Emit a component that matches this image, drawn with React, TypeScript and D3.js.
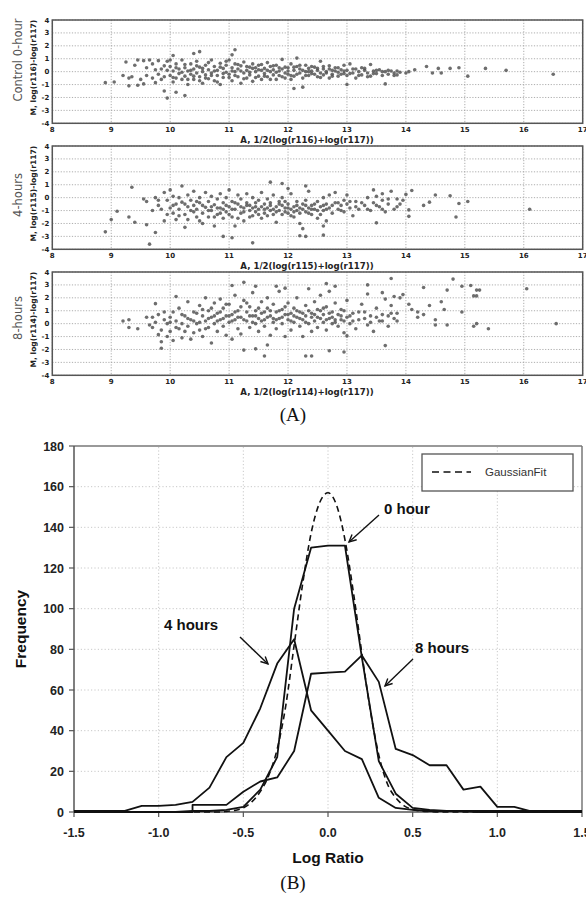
import React from 'react';
import * as d3 from 'd3';

// ---- panel A: MA plots (A value, M value) ----
const ctrlPts: [number, number][] = [
  [8.9,-0.85],[9.05,-0.8],[9.25,0.75],[9.95,-2.05],[9.9,-1.5],[10.1,-1.6],[10.25,-1.85],[10.05,1.25],[10.4,1.4],[10.5,1.55],
  [11.1,1.7],[11.05,1.3],[12.15,1.05],[12.1,-1.3],[12.25,-1.2],[13.0,-1.0],[13.65,-0.95],[14.05,0],[14.15,0.15],[14.35,0.4],
  [14.45,-0.1],[14.55,0.25],[14.6,-0.1],[14.75,0.25],[14.9,0.3],[15.05,-0.35],[15.35,0.25],[15.7,0.1],[16.5,-0.2],[14.0,-0.1],
  [9.2,-0.3],[9.3,-0.5],[9.3,-1.1],[9.35,-0.4],[9.4,0.5],[9.45,-1.05],[9.45,0.9],[9.5,-0.6],[9.55,0.85],[9.55,-0.95],
  [9.6,0.3],[9.6,-0.3],[9.65,0.9],[9.7,-0.5],[9.75,0.15],[9.8,-0.2],[9.8,0.85],[9.85,-0.6],[9.9,0.45],[9.9,-0.4],[9.95,0.1],[9.95,0.8],
  [10.0,-0.3],[10.0,0.4],[10.05,-0.8],[10.05,0.05],[10.1,0.6],[10.1,-0.5],[10.15,0.2],[10.15,-0.15],[10.2,0.9],[10.2,-0.6],
  [10.25,0.3],[10.25,-0.35],[10.3,0.05],[10.3,-1.0],[10.35,0.6],[10.35,-0.2],[10.4,0.2],[10.4,-0.6],[10.45,0.8],[10.45,-0.1],
  [10.5,0.35],[10.5,-0.4],[10.55,0.0],[10.55,-0.9],[10.6,0.5],[10.6,-0.25],[10.65,0.15],[10.65,-0.55],[10.7,0.9],[10.7,-0.1],
  [10.75,0.4],[10.75,-0.7],[10.8,0.1],[10.8,-0.3],[10.85,0.65],[10.85,-1.0],[10.9,0.25],[10.9,-0.45],[10.95,-0.05],[10.95,0.5],
  [11.0,0.9],[11.0,-0.2],[11.05,0.3],[11.05,-0.7],[11.1,0.0],[11.1,0.6],[11.15,-0.4],[11.15,0.2],[11.2,-0.9],[11.2,0.45],
  [11.25,-0.1],[11.25,0.75],[11.3,0.1],[11.3,-0.5],[11.35,0.35],[11.35,-0.25],[11.4,0.6],[11.4,-0.75],[11.45,0.0],[11.45,0.3],
  [11.5,-0.35],[11.5,0.5],[11.55,0.1],[11.55,-0.6],[11.6,0.25],[11.6,-0.15],[11.65,0.7],[11.65,-0.4],[11.7,0.0],[11.7,0.4],
  [11.75,-0.25],[11.75,0.15],[11.8,-0.6],[11.8,0.5],[11.85,0.05],[11.85,-0.3],[11.9,0.95],[11.9,0.2],[11.95,-0.1],[11.95,-0.5],
  [12.0,0.3],[12.0,-0.2],[12.05,0.6],[12.05,-0.6],[12.1,0.1],[12.1,-0.35],[12.15,0.4],[12.2,-0.1],[12.2,0.2],[12.25,-0.5],
  [12.3,0.5],[12.3,0.0],[12.35,-0.3],[12.35,0.25],[12.4,0.05],[12.4,-0.15],[12.45,0.35],[12.5,-0.4],[12.5,0.1],[12.55,0.8],
  [12.55,-0.1],[12.6,0.2],[12.6,-0.25],[12.65,0.0],[12.7,0.45],[12.7,-0.5],[12.75,0.1],[12.75,-0.2],[12.8,0.3],[12.85,-0.05],
  [12.85,-0.35],[12.9,0.15],[12.95,0.5],[12.95,-0.15],[13.0,0.1],[13.0,-0.3],[13.05,0.6],[13.1,-0.1],[13.1,0.2],[13.15,-0.5],
  [13.2,0.0],[13.25,0.3],[13.25,-0.25],[13.3,0.1],[13.35,-0.1],[13.4,0.55],[13.4,-0.35],[13.45,0.05],[13.5,-0.15],[13.55,0.15],
  [13.6,-0.3],[13.65,0.0],[13.7,-0.2],[13.75,0.05],[13.8,-0.1],[13.85,-0.25],[13.9,-0.05],
  [9.7,0.6],[9.75,-0.85],[9.85,0.2],[10.0,0.9],[10.05,-0.45],[10.1,0.3],[10.2,-0.05],[10.25,0.55],[10.3,-0.6],[10.35,0.1],
  [10.4,-0.35],[10.45,0.45],[10.5,-0.7],[10.55,0.25],[10.6,-0.5],[10.65,0.7],[10.7,-0.3],[10.75,0.05],[10.8,-0.8],[10.85,0.35],
  [10.9,-0.15],[10.95,0.8],[11.0,-0.45],[11.05,0.05],[11.1,-0.3],[11.15,0.55],[11.2,0.05],[11.25,-0.55],[11.3,0.4],[11.35,-0.05],
  [11.4,0.25],[11.45,-0.45],[11.5,0.15],[11.55,0.55],[11.6,-0.35],[11.65,0.1],[11.7,-0.6],[11.75,0.45],[11.8,-0.05],[11.85,0.3],
  [11.9,-0.4],[11.95,0.35],[12.0,0.05],[12.05,-0.3],[12.1,0.35],[12.15,-0.2],[12.2,0.5],[12.25,0.1],[12.3,-0.3],[12.35,0.0],
  [12.4,0.4],[12.45,-0.2],[12.5,0.25],[12.55,-0.45],[12.6,0.4],[12.65,-0.1],[12.7,0.2],[12.75,-0.35],[12.8,0.05],[12.85,0.3],
  [12.9,-0.2],[12.95,0.05],[13.05,-0.15],[13.15,0.2],[13.2,-0.3],[13.3,0.25],[13.35,-0.4],[13.45,-0.15],[13.5,0.1],[13.6,0.0],
  [13.7,0.1],[13.8,-0.3],[13.85,0.05],
];

const h4Pts: [number, number][] = [
  [8.9,-2.65],[9.0,-1.7],[9.1,-1.05],[9.35,0.8],[9.3,-1.5],[9.4,-1.9],[9.6,-2.1],[9.65,-3.6],[9.75,-2.7],[10.9,-3.0],
  [11.05,-3.1],[11.4,-3.5],[12.2,-2.95],[12.3,-3.0],[12.25,-2.4],[12.6,-2.9],[12.6,-2.2],[12.65,-1.8],[11.7,1.2],[11.9,1.1],
  [12.0,0.7],[12.3,0.9],[13.5,-1.95],[14.05,-1.45],[14.05,-0.95],[14.1,0.55],[14.3,-0.6],[14.5,0.2],[14.75,0.15],[14.9,-0.45],
  [14.85,-1.5],[15.05,-0.3],[16.1,-0.9],[13.75,0.5],[14.0,0.25],[13.45,0.6],[13.6,0.3],[14.4,-0.35],
  [9.55,-0.1],[9.6,-0.3],[9.7,-1.0],[9.75,0.0],[9.8,-0.6],[9.85,-0.9],[9.9,0.4],[9.9,-1.8],[9.95,-0.2],[10.0,0.6],
  [10.0,-0.8],[10.05,-1.2],[10.05,0.1],[10.1,-0.5],[10.1,-1.7],[10.15,0.0],[10.15,-0.9],[10.2,0.9],[10.2,-0.35],[10.25,-1.3],
  [10.25,-2.3],[10.3,-0.7],[10.3,0.2],[10.35,-1.0],[10.35,-0.2],[10.4,0.5],[10.4,-0.6],[10.45,-1.5],[10.45,-0.9],[10.5,0.0],
  [10.5,-0.4],[10.55,-1.2],[10.55,-2.0],[10.6,0.4],[10.6,-0.75],[10.65,-1.5],[10.65,-0.3],[10.7,0.1],[10.7,-1.0],[10.75,-0.55],
  [10.75,-2.2],[10.8,-0.1],[10.8,-1.3],[10.85,0.3],[10.85,-0.8],[10.9,-1.6],[10.9,-0.4],[10.95,0.0],[10.95,-1.1],
  [11.0,0.6],[11.0,-0.7],[11.05,-0.3],[11.05,-1.5],[11.1,-0.9],[11.1,-2.2],[11.15,0.2],[11.15,-0.5],[11.2,-1.2],[11.2,-0.1],
  [11.25,-0.8],[11.25,-1.8],[11.3,-0.4],[11.3,0.3],[11.35,-1.0],[11.35,-0.6],[11.4,-1.4],[11.4,0.0],[11.45,-0.7],[11.45,-1.1],
  [11.5,-0.2],[11.5,-0.9],[11.55,-1.6],[11.55,0.4],[11.6,-0.5],[11.6,-1.2],[11.65,-0.8],[11.65,-0.1],[11.7,-1.0],[11.7,-0.4],
  [11.75,-1.3],[11.75,0.2],[11.8,-0.7],[11.8,-1.9],[11.85,-0.3],[11.85,-1.0],[11.9,-0.6],[11.9,0.0],[11.95,-1.1],[11.95,-0.8],
  [12.0,-0.5],[12.0,-1.2],[12.05,-0.9],[12.05,0.3],[12.1,-0.7],[12.1,-1.5],[12.15,-0.3],[12.15,-1.0],[12.2,-0.8],[12.2,-2.0],
  [12.25,-0.5],[12.3,-1.1],[12.3,-0.2],[12.35,-0.8],[12.35,0.5],[12.4,-1.3],[12.4,-0.6],[12.45,-0.9],[12.5,-0.3],[12.5,-1.6],
  [12.55,-0.7],[12.6,0.0],[12.6,-1.0],[12.65,-0.5],[12.7,-0.8],[12.7,0.2],[12.75,-1.2],[12.8,-0.4],[12.8,0.4],[12.85,-0.9],
  [12.9,-0.6],[12.95,-0.2],[12.95,-1.1],[13.0,-0.5],[13.0,0.2],[13.05,-0.8],[13.1,-1.4],[13.15,-0.3],[13.2,-0.9],[13.3,-0.6],
  [13.35,0.0],[13.4,-1.0],[13.45,-0.4],[13.5,0.1],[13.55,-0.7],[13.6,-0.2],[13.65,-1.1],[13.7,-0.5],[13.8,-0.9],[13.85,-0.1],
  [13.9,-0.5],[13.95,-0.2],
  [9.8,-0.2],[9.95,-1.3],[10.05,-0.6],[10.15,-1.4],[10.25,-0.5],[10.3,-1.7],[10.4,-1.1],[10.45,-0.3],[10.5,-1.8],[10.55,-0.6],
  [10.65,-1.0],[10.7,-0.7],[10.75,-1.5],[10.8,-0.8],[10.85,-1.2],[10.9,-0.9],[10.95,-0.6],[11.0,-1.3],[11.05,-0.9],[11.1,-0.4],
  [11.15,-1.6],[11.2,-0.7],[11.25,-1.1],[11.3,-0.6],[11.35,-1.5],[11.4,-0.8],[11.45,-0.4],[11.5,-1.3],[11.55,-0.7],[11.6,-0.9],
  [11.65,-1.4],[11.7,-0.6],[11.75,-0.9],[11.8,-1.1],[11.85,-0.5],[11.9,-1.3],[11.95,-0.3],[12.0,-0.8],[12.05,-1.4],[12.1,-1.1],
  [12.15,-0.6],[12.2,-1.2],[12.25,-0.9],[12.3,-0.6],[12.35,-1.2],[12.4,-0.9],[12.45,-0.5],[12.5,-1.0],[12.55,-1.3],[12.6,-0.6],
  [12.65,-0.9],[12.75,-0.6],[12.85,-0.4],[12.9,-1.0],[13.05,-0.3],[13.15,-0.7],[13.25,-0.4],[13.35,-0.9],[13.5,-0.6],[13.6,-0.9],
  [13.7,-0.1],[13.85,-0.7],
];

const h8Pts: [number, number][] = [
  [9.2,0.2],[9.3,0.3],[9.3,-0.3],[9.45,-0.4],[9.7,0.5],[9.75,1.55],[9.8,-0.85],[9.85,-1.4],[9.85,-1.9],[10.1,2.1],
  [11.25,-2.05],[11.45,-1.95],[11.6,-2.5],[11.65,-1.65],[12.3,-2.5],[12.4,-2.5],[12.7,-2.1],[12.95,-2.2],[13.0,-0.95],[13.65,-1.7],
  [11.25,3.2],[11.05,2.95],[11.45,2.9],[11.8,2.9],[11.95,2.75],[12.65,3.1],[12.8,2.9],[13.35,3.0],[13.75,3.5],[14.3,2.8],
  [14.8,3.45],[14.95,2.9],[15.1,2.95],[15.2,2.6],[15.15,2.15],[15.2,2.15],[15.25,2.6],[16.05,2.7],[16.55,0.0],[15.4,-0.4],
  [15.15,-0.2],[15.2,0],[14.7,-0.1],[14.5,-0.1],[14.6,1.7],[14.65,1.1],[14.7,2.6],[14.4,1.4],[14.3,0.7],[14.2,0.5],
  [14.1,1.1],[13.95,2.25],[14.05,1.5],[13.85,0.8],[14.5,0.3],[14.95,0.9],[14.2,0.9],
  [9.6,0.5],[9.65,-0.1],[9.7,-0.3],[9.75,0.1],[9.8,0.7],[9.85,-0.5],[9.9,0.3],[9.95,-1.0],[9.95,0.0],[10.0,0.5],
  [10.0,-0.6],[10.05,0.9],[10.05,-1.3],[10.1,0.2],[10.15,-0.4],[10.15,1.2],[10.2,0.0],[10.2,-1.1],[10.25,0.6],[10.3,-0.2],
  [10.3,1.7],[10.35,0.3],[10.35,-1.2],[10.4,-0.7],[10.4,0.9],[10.45,0.0],[10.5,1.4],[10.5,-0.5],[10.55,0.6],[10.55,-1.0],
  [10.6,0.2],[10.6,2.0],[10.65,-0.3],[10.65,1.0],[10.7,0.5],[10.7,-1.5],[10.75,0.0],[10.75,1.6],[10.8,0.8],[10.8,-0.6],
  [10.85,0.3],[10.85,1.9],[10.9,-0.2],[10.9,1.2],[10.95,0.6],[10.95,-0.9],
  [11.0,0.1],[11.0,1.5],[11.05,0.7],[11.05,-1.2],[11.1,0.3],[11.1,2.2],[11.15,-0.4],[11.15,1.0],[11.2,0.5],[11.2,-0.8],
  [11.25,1.8],[11.3,0.2],[11.3,0.9],[11.35,-0.3],[11.35,1.3],[11.4,0.6],[11.4,2.4],[11.45,0.0],[11.45,1.0],[11.5,-0.6],
  [11.5,0.4],[11.55,1.7],[11.55,0.8],[11.6,-0.2],[11.6,0.3],[11.65,1.2],[11.65,2.0],[11.7,0.6],[11.7,-0.9],[11.75,0.1],
  [11.75,1.5],[11.8,0.9],[11.8,-0.4],[11.85,0.4],[11.85,2.5],[11.9,1.1],[11.9,0.0],[11.95,0.7],[11.95,-1.0],
  [12.0,0.3],[12.0,1.6],[12.05,0.8],[12.05,-0.5],[12.1,0.1],[12.1,1.2],[12.15,2.0],[12.15,0.5],[12.2,-0.2],[12.2,0.9],
  [12.25,0.3],[12.25,-1.0],[12.3,1.4],[12.3,0.6],[12.35,0.0],[12.35,2.7],[12.4,0.8],[12.4,-0.6],[12.45,0.2],[12.45,1.7],
  [12.5,0.5],[12.5,-0.3],[12.55,1.0],[12.55,2.2],[12.6,0.1],[12.6,0.7],[12.65,-0.5],[12.65,1.3],[12.7,0.4],[12.7,2.5],
  [12.75,0.0],[12.75,0.9],[12.8,0.3],[12.8,1.6],[12.85,-0.2],[12.9,0.6],[12.9,1.1],[12.95,0.2],[12.95,-0.7],
  [13.0,0.5],[13.0,1.8],[13.05,0.0],[13.1,0.8],[13.15,-0.4],[13.2,0.3],[13.25,1.5],[13.3,0.9],[13.35,-0.1],[13.35,2.3],
  [13.4,0.6],[13.45,-0.6],[13.5,1.2],[13.55,0.2],[13.6,2.4],[13.6,0.7],[13.65,1.9],[13.7,-0.2],[13.75,0.8],[13.75,1.4],
  [13.8,2.1],[13.85,0.2],[13.9,2.0],
  [9.9,0.9],[10.0,0.1],[10.1,-0.3],[10.2,0.7],[10.25,-0.6],[10.3,0.4],[10.4,0.2],[10.45,0.8],[10.5,0.1],[10.55,1.1],
  [10.6,-0.4],[10.65,0.4],[10.7,1.2],[10.75,0.6],[10.8,0.2],[10.85,0.9],[10.9,0.4],[10.95,1.5],[11.0,0.6],[11.05,0.2],
  [11.1,0.9],[11.15,0.5],[11.2,1.3],[11.25,0.3],[11.3,1.6],[11.35,0.6],[11.4,0.1],[11.45,0.6],[11.5,1.2],[11.55,0.2],
  [11.6,0.9],[11.65,0.5],[11.7,1.0],[11.75,0.4],[11.8,0.3],[11.85,1.0],[11.9,0.5],[11.95,1.3],[12.0,0.7],[12.05,0.2],
  [12.1,0.6],[12.15,1.0],[12.2,0.4],[12.25,0.8],[12.3,0.1],[12.35,1.0],[12.4,0.5],[12.45,0.7],[12.5,1.1],[12.55,0.4],
  [12.6,1.2],[12.65,0.3],[12.7,0.8],[12.75,0.5],[12.8,0.1],[12.85,0.7],[12.9,0.3],[12.95,1.0],[13.05,0.6],[13.1,0.2],
  [13.2,0.9],[13.3,0.4],[13.4,0.1],[13.5,0.5],[13.6,0.2],[13.7,0.6],[13.8,0.4],
];

const panelNames = ['Control 0-hour', '4-hours', '8-hours'];
const channels = ['r116', 'r115', 'r114'];
const aTicks = [8, 9, 10, 11, 12, 13, 14, 15, 16, 17];
const mTicks = [4, 3, 2, 1, 0, -1, -2, -3, -4];

// ---- panel B: log ratio histograms ----
const binX = [-1.5,-1.4,-1.3,-1.2,-1.1,-1.0,-0.9,-0.8,-0.7,-0.6,-0.5,-0.4,-0.3,-0.2,-0.1,0,0.1,0.2,0.3,0.4,0.5,0.6,0.7,0.8,0.9,1.0,1.1,1.2,1.3,1.4,1.5];
const hour0 = [0,0,0,0,0,0,0,0.5,0.5,1,2.5,11,27,100,130,131,131,76,25,9,2,1,0.5,0.3,0,0,0,0,0,0,0];
const hour4 = [0.5,0.5,0.5,0.5,3,3,3.5,5,12,27,34,51,73,85,50,40,30,26,7,2,1,0.5,0.5,0.5,0.5,0.5,0.5,0.5,0.5,0.5,0.5];
const hour8X = [-1.5,-1.4,-1.3,-1.2,-1.1,-1.0,-0.9,-0.8,-0.8,-0.7,-0.6,-0.5,-0.4,-0.3,-0.2,-0.1,0,0.1,0.2,0.3,0.4,0.5,0.6,0.7,0.8,0.9,1.0,1.1,1.2,1.3,1.4,1.5];
const hour8 = [0,0,0,0,0,0,0,0,3.5,3.5,3.5,10,15,17,30,68,68.5,69,77,64,31,28,23,23,11,12.5,2.5,2.5,0.3,0,0,0];
const gaussX = [-1.5,-1.45,-1.4,-1.35,-1.3,-1.25,-1.2,-1.15,-1.1,-1.05,-1.0,-0.95,-0.9,-0.85,-0.8,-0.75,-0.7,-0.65,
  -0.6,-0.55,-0.5,-0.45,-0.4,-0.35,-0.3,-0.25,-0.2,-0.15,-0.1,-0.05,0,0.05,0.1,0.15,0.2,0.25,0.3,0.35,0.4,0.45,0.5,0.55,0.6,
  0.65,0.7,0.75,0.8,0.85,0.9,0.95,1.0,1.05,1.1,1.15,1.2,1.25,1.3,1.35,1.4,1.45,1.5];
const gaussFit = [0,0,0,0,0,0,0,0,0,0,0,0,0,0,0,0,0,0,
  0.3,0.8,2,5,10,18,31,52,82,112,137,152,157,151,134,108,78,50,28,14,7,3,1.2,0.5,0.2,
  0,0,0,0,0,0,0,0,0,0,0,0,0,0,0,0,0,0];
const freqTicks = [0, 20, 40, 60, 80, 100, 120, 140, 160, 180];
const ratioTicks = [-1.5, -1.0, -0.5, 0, 0.5, 1.0, 1.5];

const dv = 'DejaVu Sans';
const lib = 'Liberation Sans, Arial, sans-serif';

function MAPanel({ pts, top, idx }: { pts: [number, number][]; top: number; idx: number }) {
  const x = d3.scaleLinear().domain([8, 17]).range([52.3, 582.7]);
  const y = d3.scaleLinear().domain([-4, 4]).range([top + 103.3, top]);
  const nameY = [60, 195, 318][idx];
  const midY = (y(-4) + y(4)) / 2;
  return (
    <g>
      {aTicks.map(t => (
        <line key={'gx' + t} x1={x(t)} x2={x(t)} y1={y(4)} y2={y(-4)} stroke="#999" strokeWidth={0.8} strokeDasharray="1.2,1.6" />
      ))}
      {mTicks.map(t => (
        <line key={'gy' + t} x1={x(8)} x2={x(17)} y1={y(t)} y2={y(t)} stroke="#999" strokeWidth={0.8} strokeDasharray="1.2,1.6" />
      ))}
      {pts.map((p, i) => (
        <circle key={i} cx={x(p[0])} cy={y(p[1])} r={1.8} fill="#555" fillOpacity={0.85} />
      ))}
      <rect x={x(8)} y={y(4)} width={x(17) - x(8)} height={y(-4) - y(4)} fill="none" stroke="#555" strokeWidth={1.5} />
      {mTicks.map(t => (
        <text key={'ty' + t} x={x(8) - 3} y={y(t) + 2.5} fontSize={7} fontWeight="bold" fontFamily={dv} textAnchor="end" fill="#222">{t}</text>
      ))}
      {aTicks.map(t => (
        <text key={'tx' + t} x={x(t)} y={y(-4) + 9} fontSize={7} fontWeight="bold" fontFamily={dv} textAnchor="middle" fill="#222">{t}</text>
      ))}
      <text x={307} y={y(-4) + 19.5} fontSize={8.6} fontWeight="bold" fontFamily={dv} textAnchor="middle" fill="#222">
        {`A, 1/2(log(${channels[idx]})+log(r117))`}
      </text>
      <text transform={`translate(36,${midY - 4}) rotate(-90)`} fontSize={7.6} fontWeight="bold" fontFamily={dv} textAnchor="middle" fill="#222">
        {`M, log(${channels[idx]})-log(r117)`}
      </text>
      <text transform={`translate(22,${nameY}) rotate(-90)`} fontSize={11.5} fontFamily={dv} textAnchor="middle" fill="#555">
        {panelNames[idx]}
      </text>
    </g>
  );
}

function Arrow({ x1, y1, x2, y2 }: { x1: number; y1: number; x2: number; y2: number }) {
  const a = Math.atan2(y2 - y1, x2 - x1);
  const L = 8, w = 0.45;
  const p1 = [x2 - L * Math.cos(a - w), y2 - L * Math.sin(a - w)];
  const p2 = [x2 - L * Math.cos(a + w), y2 - L * Math.sin(a + w)];
  return (
    <g stroke="#111" strokeWidth={1.4} fill="none">
      <line x1={x1} y1={y1} x2={x2} y2={y2} />
      <polyline points={`${p1[0]},${p1[1]} ${x2},${y2} ${p2[0]},${p2[1]}`} />
    </g>
  );
}

export default function App() {
  const xs = d3.scaleLinear().domain([-1.5, 1.5]).range([74, 582]);
  const ys = d3.scaleLinear().domain([0, 180]).range([812, 446]);
  const line = d3.line<[number, number]>().x(d => xs(d[0])).y(d => ys(d[1]));
  const zip = (a: number[], b: number[]) => a.map((v, i) => [v, b[i]] as [number, number]);

  return (
    <svg width={586} height={898} style={{ position: 'absolute', left: 0, top: 0, background: '#fff' }}>
      <rect width={586} height={898} fill="#fff" />
      <MAPanel pts={ctrlPts} top={20} idx={0} />
      <MAPanel pts={h4Pts} top={146} idx={1} />
      <MAPanel pts={h8Pts} top={272} idx={2} />
      <text x={293} y={421} fontSize={19} fontFamily="Liberation Serif, Times New Roman, serif" textAnchor="middle" fill="#111">(A)</text>

      {/* panel B grid */}
      {freqTicks.slice(1, -1).map(t => (
        <line key={'bg' + t} x1={xs(-1.5)} x2={xs(1.5)} y1={ys(t)} y2={ys(t)} stroke="#bbb" strokeWidth={0.8} strokeDasharray="1.2,2.2" />
      ))}
      {ratioTicks.slice(1, -1).map(t => (
        <line key={'bv' + t} x1={xs(t)} x2={xs(t)} y1={ys(0)} y2={ys(180)} stroke="#bbb" strokeWidth={0.8} strokeDasharray="1.2,2.2" />
      ))}
      <line x1={xs(-1.5)} x2={xs(1.5)} y1={ys(180)} y2={ys(180)} stroke="#777" strokeWidth={1.5} />
      <line x1={xs(1.5)} x2={xs(1.5)} y1={ys(180)} y2={ys(0)} stroke="#777" strokeWidth={1.5} />
      <line x1={xs(-1.5)} x2={xs(1.5)} y1={ys(0)} y2={ys(0)} stroke="#555" strokeWidth={1.5} />
      <line x1={xs(-1.5)} x2={xs(-1.5)} y1={ys(180)} y2={ys(0)} stroke="#555" strokeWidth={1.5} />
      {freqTicks.map(t => (
        <g key={'ft' + t}>
          <line x1={xs(-1.5) - 5} x2={xs(-1.5)} y1={ys(t)} y2={ys(t)} stroke="#555" strokeWidth={1.2} />
          <text x={64} y={ys(t) + 4.5} fontSize={12.5} fontWeight="bold" fontFamily={lib} textAnchor="end" fill="#222">{t}</text>
        </g>
      ))}
      {ratioTicks.map(t => (
        <g key={'rt' + t}>
          <line x1={xs(t)} x2={xs(t)} y1={ys(0)} y2={ys(0) + 5} stroke="#555" strokeWidth={1.2} />
          <text x={xs(t)} y={837} fontSize={12.5} fontWeight="bold" fontFamily={lib} textAnchor="middle" fill="#222">{t.toFixed(1)}</text>
        </g>
      ))}
      <text x={328} y={863} fontSize={15.5} fontWeight="bold" fontFamily={lib} textAnchor="middle" fill="#111">Log Ratio</text>
      <text transform="translate(26,629) rotate(-90)" fontSize={15.5} fontWeight="bold" fontFamily={lib} textAnchor="middle" fill="#111">Frequency</text>
      <text x={293} y={889} fontSize={19} fontFamily="Liberation Serif, Times New Roman, serif" textAnchor="middle" fill="#111">(B)</text>

      {/* curves */}
      <path d={line(zip(binX, hour4)) || ''} fill="none" stroke="#111" strokeWidth={1.8} strokeLinejoin="round" />
      <path d={line(zip(hour8X, hour8)) || ''} fill="none" stroke="#111" strokeWidth={1.8} strokeLinejoin="round" />
      <path d={line(zip(binX, hour0)) || ''} fill="none" stroke="#111" strokeWidth={1.8} strokeLinejoin="round" />
      <path d={d3.line<[number, number]>().x(d => xs(d[0])).y(d => ys(d[1])).curve(d3.curveMonotoneX)(zip(gaussX, gaussFit)) || ''}
        fill="none" stroke="#111" strokeWidth={1.6} strokeDasharray="6,4" />

      {/* legend */}
      <rect x={422} y={454} width={151} height={37} fill="#fff" stroke="#555" strokeWidth={1.3} />
      <line x1={432} x2={471} y1={472} y2={472} stroke="#111" strokeWidth={1.6} strokeDasharray="7,4.5" />
      <text x={485} y={476} fontSize={11.5} fontFamily={lib} fill="#333">GaussianFit</text>

      {/* annotations */}
      <text x={384} y={514} fontSize={15} fontWeight="bold" fontFamily={lib} fill="#111">0 hour</text>
      <Arrow x1={379} y1={515} x2={349} y2={542} />
      <text x={415} y={653} fontSize={15} fontWeight="bold" fontFamily={lib} fill="#111">8 hours</text>
      <Arrow x1={413} y1={659} x2={385} y2={686} />
      <text x={164} y={630} fontSize={15} fontWeight="bold" fontFamily={lib} fill="#111">4 hours</text>
      <Arrow x1={240} y1={637} x2={268} y2={664} />
    </svg>
  );
}
